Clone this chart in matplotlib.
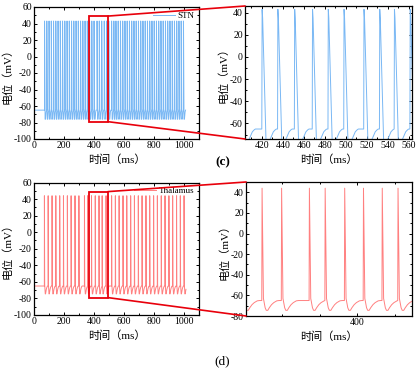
import matplotlib
matplotlib.use("Agg")
import matplotlib.pyplot as plt
from matplotlib.patches import Rectangle, ConnectionPatch
from matplotlib.ticker import MultipleLocator

plt.rcParams['font.family'] = ['Liberation Serif', 'Noto Sans CJK SC']
plt.rcParams['axes.unicode_minus'] = False

# ---------------- data ----------------
stn_spikes = [70, 85, 100, 115, 130, 145, 160, 175, 190, 205, 220, 235, 250, 265,
              280, 295, 310, 325, 340, 355, 370, 385, 400, 420, 435, 451, 468, 483,
              498, 517, 532, 546, 561, 576, 591, 606, 621, 636, 651, 666, 681, 696,
              711, 726, 741, 756, 771, 786, 801, 816, 831, 846, 861, 876, 891, 906,
              921, 936, 951, 966, 981, 996]
thal_spikes = [69, 94, 120, 145, 171, 196, 222, 247, 273, 299, 336, 357, 383, 408,
               433, 454, 480, 517, 542, 567, 593, 618, 644, 669, 695, 720, 746, 771,
               797, 822, 848, 873, 899, 924, 950, 975, 1000]
# spike waveform shape (ms after spike onset, mV)
stn_shape_t = [0, 0.3, 0.8, 4.0, 7.0, 8.5, 11.0, 13.0, 14.0]
stn_shape_v = [-65, 43, 35, -76, -76, -73, -67.5, -65.5, -65]
thal_shape_t = [0, 0.4, 2.2, 3.0, 4.5, 6.0, 8.0, 10.0, 13.0, 16.0, 20.0, 23.0]
thal_shape_v = [-65, 44, -63, -66, -72, -74.5, -74.5, -72, -69, -67, -65.3, -65]
v_start = -72
v_rest = -65
t_end = 1000

zoom_box = (367, 493, -79, 49)  # x0, x1, y0, y1 in left-panel data units

stn_color = '#7ab8f4'
thal_color = '#ff8080'


def build_trace(spikes, shape_t, shape_v):
    xs = [0.0, 0.5]
    ys = [v_start, v_rest]
    for i, t in enumerate(spikes):
        nxt = spikes[i + 1] if i + 1 < len(spikes) else t_end + 15
        for dt, v in zip(shape_t, shape_v):
            if t + dt < nxt:
                xs.append(t + dt)
                ys.append(v)
    return xs, ys


stn_x, stn_y = build_trace(stn_spikes, stn_shape_t, stn_shape_v)
th_x, th_y = build_trace(thal_spikes, thal_shape_t, thal_shape_v)

fig = plt.figure(figsize=(4.2, 3.71), dpi=100)
ax1 = fig.add_axes([34/420, 1-139/371, 165/420, 132/371])
ax2 = fig.add_axes([245/420, 1-139/371, 167/420, 133/371])
ax3 = fig.add_axes([34/420, 1-315/371, 165/420, 132.5/371])
ax4 = fig.add_axes([246/420, 1-316/371, 166/420, 134/371])

lw = 0.7
ax1.plot(stn_x, stn_y, color=stn_color, lw=lw, label='STN')
ax2.plot(stn_x, stn_y, color=stn_color, lw=lw)
ax3.plot(th_x, th_y, color=thal_color, lw=lw, label='Thalamus')
ax4.plot(th_x, th_y, color=thal_color, lw=lw)

for ax in (ax1, ax3):
    ax.set_xlim(0, 1100)
    ax.set_ylim(-100, 60)
    ax.xaxis.set_major_locator(MultipleLocator(200))
    ax.xaxis.set_minor_locator(MultipleLocator(100))
    ax.yaxis.set_major_locator(MultipleLocator(20))
    ax.yaxis.set_minor_locator(MultipleLocator(10))
    leg = ax.legend(loc='upper right', frameon=False, fontsize=6.5,
                    handlelength=2.4, borderaxespad=0.1, handletextpad=0.3)

ax2.set_xlim(404, 563)
ax2.set_ylim(-74, 46)
ax2.xaxis.set_major_locator(MultipleLocator(20))
ax2.xaxis.set_minor_locator(MultipleLocator(10))
ax2.yaxis.set_major_locator(MultipleLocator(20))
ax2.yaxis.set_minor_locator(MultipleLocator(10))

ax4.set_xlim(252, 473)
ax4.set_ylim(-80, 50)
ax4.xaxis.set_major_locator(MultipleLocator(200))
ax4.xaxis.set_minor_locator(MultipleLocator(50))
ax4.yaxis.set_major_locator(MultipleLocator(20))
ax4.yaxis.set_minor_locator(MultipleLocator(10))

for ax in (ax1, ax2, ax3, ax4):
    ax.tick_params(which='both', direction='in', top=True, right=True,
                   labelsize=7, pad=1.5, width=0.7)
    ax.tick_params(which='major', length=2.5)
    ax.tick_params(which='minor', length=1.3)
    for s in ax.spines.values():
        s.set_linewidth(0.9)
    ax.set_xlabel('时间（ms）', fontsize=8, labelpad=3)
    ax.set_ylabel('电位（mV）', fontsize=8, labelpad=1)

# zoom rectangles and connectors
x0, x1, y0, y1 = zoom_box
for axl, axr in ((ax1, ax2), (ax3, ax4)):
    axl.add_patch(Rectangle((x0, y0), x1 - x0, y1 - y0, fill=False,
                            edgecolor='#e8000b', lw=1.3, zorder=5))
    for (xa, ya), (xb, yb) in (((x1, y1), (0, 1)), ((x1, y0), (0, 0))):
        con = ConnectionPatch(xyA=(xa, ya), coordsA=axl.transData,
                              xyB=(xb, yb), coordsB=axr.transAxes,
                              color='#e8000b', lw=1.2, zorder=10)
        fig.add_artist(con)

fig.text(223/420, 1-162/371, '(c)', fontsize=9.5, fontweight='bold',
         ha='center', va='center')
fig.text(222/420, 1-361/371, '(d)', fontsize=9.5, ha='center', va='center')

fig.savefig('out.png', dpi=100)
